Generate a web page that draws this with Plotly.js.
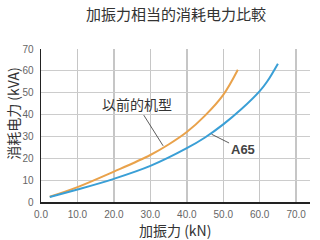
<!DOCTYPE html>
<html>
<head>
<meta charset="utf-8">
<script src="https://cdn.plot.ly/plotly-3.0.1.min.js"></script>
<style>html,body{margin:0;padding:0;background:#fff;}#chart{width:320px;height:240px;}</style>
</head>
<body>
<div id="chart"></div>
<script>
const chartTitle = "加振力相当的消耗电力比較";
const xTitle = "加振力 (kN)";
const yTitle = "消耗电力 (kVA)";
const oldName = "以前的机型";
const newName = "A65";

const oldX = [2.4, 10, 20, 30, 35, 40, 45, 50, 54];
const oldY = [2.4, 6.8, 13.9, 21.5, 26.3, 32, 39.5, 49, 60.5];

const newX = [2.4, 10, 20, 30, 40, 45, 50, 55, 60, 62, 65];
const newY = [2.3, 5.7, 10.6, 16.5, 24.6, 29.5, 35.5, 42.5, 50.7, 55, 63.3];

const xTicks = [0, 10, 20, 30, 40, 50, 60, 70];
const yTicks = [0, 10, 20, 30, 40, 50, 60, 70];
const yGrid = [10, 20, 30, 40, 50, 60];

const tickFont = {family: "Liberation Sans, Arial, sans-serif", size: 10, color: "#666"};
const cjk = "Noto Sans CJK JP, Noto Sans CJK SC, sans-serif";

const traces = [
  {x: oldX, y: oldY, type: "scatter", mode: "lines", name: oldName,
   line: {color: "#E9A24B", width: 2, shape: "spline", smoothing: 1}, hoverinfo: "skip"},
  {x: newX, y: newY, type: "scatter", mode: "lines", name: newName,
   line: {color: "#3A9FD6", width: 2, shape: "spline", smoothing: 1}, hoverinfo: "skip"},
  {x: [0], y: [0], yaxis: "y2", type: "scatter", mode: "none", hoverinfo: "skip", showlegend: false}
];

const layout = {
  width: 320, height: 240,
  margin: {l: 41, r: 10, t: 48.5, b: 37.5},
  paper_bgcolor: "#fff", plot_bgcolor: "#fff",
  showlegend: false,
  title: {text: chartTitle, font: {family: cjk, size: 15, color: "#333"},
          x: 0.55, xref: "container", xanchor: "center",
          y: 1 - 15/240, yref: "container", yanchor: "middle"},
  xaxis: {range: [0, 73.8], tickvals: xTicks, tickformat: ".1f",
          showgrid: true, gridcolor: "#c6c6c6", gridwidth: 1.5,
          zeroline: false, showline: true, linecolor: "#222", linewidth: 1.5,
          ticks: "", tickfont: tickFont, ticklabelstandoff: 2},
  yaxis: {range: [0, 70], tickvals: yTicks, showgrid: false,
          zeroline: false, showline: true, linecolor: "#222", linewidth: 1.5,
          ticks: "", tickfont: tickFont, ticklabelstandoff: 4},
  yaxis2: {range: [0, 70], overlaying: "y", tickvals: yGrid, showticklabels: false,
           showgrid: true, gridcolor: "#cccccc", gridwidth: 1, zeroline: false, showline: false, ticks: ""},
  annotations: [
    {x: 0.498, y: -0.184, xref: "paper", yref: "paper", xanchor: "center", yanchor: "middle",
     text: xTitle, showarrow: false, font: {family: cjk, size: 14, color: "#333"}},
    {x: -0.105, y: 0.581, xref: "paper", yref: "paper", xanchor: "center", yanchor: "middle",
     text: yTitle, textangle: -90, showarrow: false, font: {family: cjk, size: 14, color: "#333"}},
    {x: 33.5, y: 25.7, ax: 26.2, ay: 45, axref: "x", ayref: "y", xref: "x", yref: "y",
     text: oldName, showarrow: true, arrowhead: 0, arrowwidth: 0.8, arrowcolor: "#333",
     font: {family: cjk, size: 14, color: "#333"}},
    {x: 46.8, y: 31, ax: 55.3, ay: 23.9, axref: "x", ayref: "y", xref: "x", yref: "y",
     text: "<b>" + newName + "</b>", showarrow: true, arrowhead: 0, arrowwidth: 0.8, arrowcolor: "#333",
     font: {family: "Liberation Sans, Arial, sans-serif", size: 13, color: "#444"}}
  ]
};

Plotly.newPlot("chart", traces, layout, {staticPlot: true, displayModeBar: false});
</script>
</body>
</html>
